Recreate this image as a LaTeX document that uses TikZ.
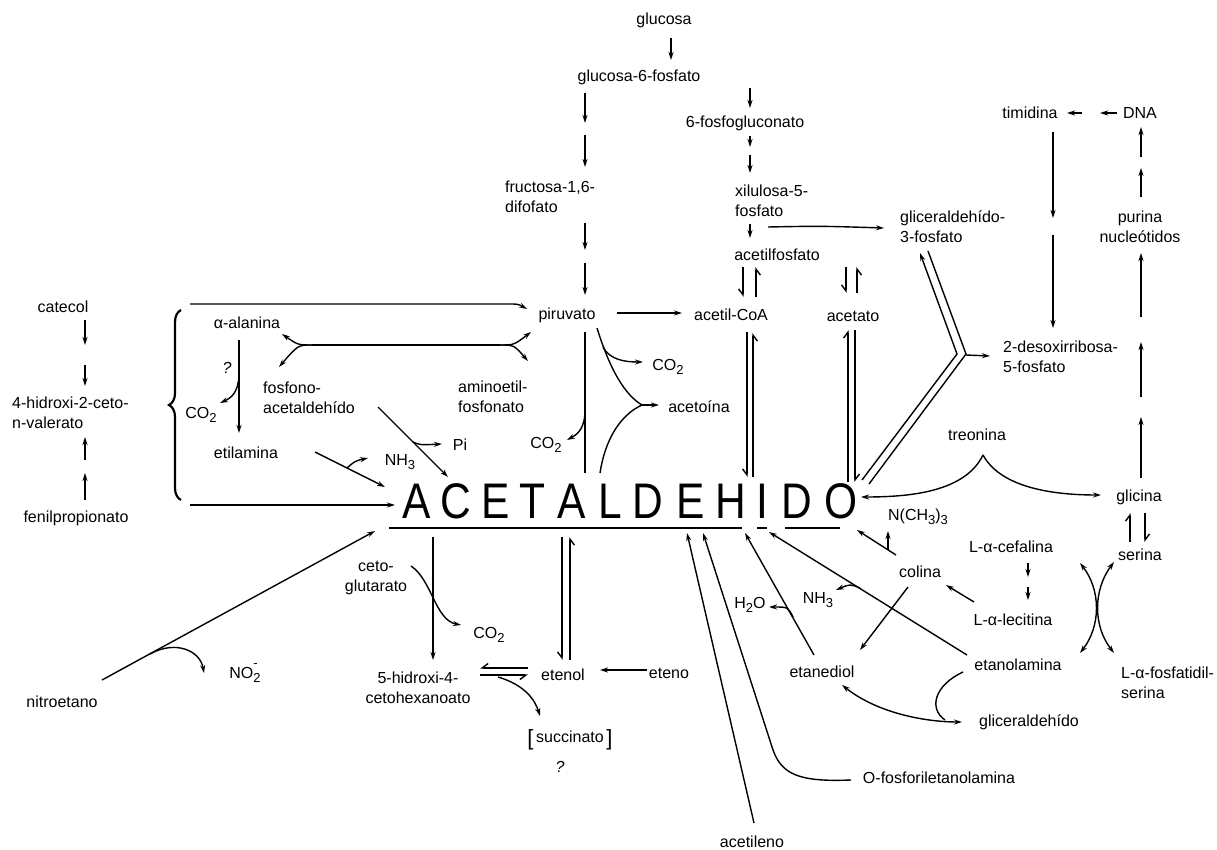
\documentclass[tikz,border=0pt]{standalone}
\usepackage{fontspec}
\setmainfont{Liberation Sans}
\usetikzlibrary{arrows.meta,decorations.pathreplacing}
\newcommand\sbs[1]{\raisebox{-0.45ex}{\fontsize{13}{13}\selectfont #1}}
\begin{document}
\begin{tikzpicture}[x=1pt,y=-1pt,
  lbl/.style={font=\fontsize{16}{20}\selectfont, inner sep=0pt, align=center},
  big/.style={font=\fontsize{50}{50}\selectfont, inner sep=0pt, anchor=base},
  ln/.style={line width=1.4pt},
  arr/.style={line width=1.4pt,-{Stealth[length=8pt,width=5pt]}},
  dbl/.style={line width=1.4pt,{Stealth[length=8pt,width=5pt]}-{Stealth[length=8pt,width=5pt]}},
  hp/.style={line width=1.4pt,-{Straight Barb[harpoon,length=6pt,width=9pt]}},
  hps/.style={line width=1.4pt,-{Straight Barb[harpoon,swap,length=6pt,width=9pt]}}]
\useasboundingbox (0,0) rectangle (1217,850);
\fill[white] (0,0) rectangle (1217,850);

% ---------- labels ----------
\node[lbl] (catecol) at (63,307) {catecol};
\node[lbl,align=left,anchor=west] (hidroxi) at (12,413) {4-hidroxi-2-ceto-\\n-valerato};
\node[lbl] (fenil) at (76,518) {fenilpropionato};
\node[lbl] (alanina) at (247,323) {α-alanina};
\node[lbl,align=left,anchor=west] (fosfono) at (263,398) {fosfono-\\acetaldehído};
\node[lbl] (etilamina) at (246,453) {etilamina};
\node[lbl] (co2a) at (201,415) {CO\sbs{2}};
\node[lbl] (qa) at (227,368) {\textit{?}};
\node[lbl,align=left,anchor=west] (aminoetil) at (458,397) {aminoetil-\\fosfonato};
\node[lbl] (piruvato) at (567,315) {piruvato};
\node[lbl] (acoa) at (731,315) {acetil-CoA};
\node[lbl] (acetato) at (853,316) {acetato};
\node[lbl] (acetoina) at (699,407) {acetoína};
\node[lbl] (co2b) at (668,367) {CO\sbs{2}};
\node[lbl] (co2c) at (546,445) {CO\sbs{2}};
\node[lbl] (nh3a) at (400,462) {NH\sbs{3}};
\node[lbl] (pi) at (460,445) {Pi};
\node[lbl] (glucosa) at (664,20) {glucosa};
\node[lbl] (g6p) at (639,77) {glucosa-6-fosfato};
\node[lbl,align=left,anchor=west] (fructosa) at (505,197) {fructosa-1,6-\\difofato};
\node[lbl] (pg) at (745,123) {6-fosfogluconato};
\node[lbl,align=left,anchor=west] (xilulosa) at (735,201) {xilulosa-5-\\fosfato};
\node[lbl] (acetilfosfato) at (777,255) {acetilfosfato};
\node[lbl,align=left,anchor=west] (g3p) at (900,227) {gliceraldehído-\\3-fosfato};
\node[lbl] (timidina) at (1030,113) {timidina};
\node[lbl] (dna) at (1140,113) {DNA};
\node[lbl] (purina) at (1140,227) {purina\\nucleótidos};
\node[lbl,align=left,anchor=west] (desoxi) at (1003,357) {2-desoxirribosa-\\5-fosfato};
\node[lbl] (treonina) at (977,435) {treonina};
\node[lbl] (glicina) at (1139,497) {glicina};
\node[lbl] (serina) at (1140,555) {serina};
\node[lbl] (nch3) at (918,517) {N(CH\sbs{3})\sbs{3}};
\node[lbl] (cefalina) at (1011,547) {L-α-cefalina};
\node[lbl] (colina) at (920,572) {colina};
\node[lbl] (lecitina) at (1013,620) {L-α-lecitina};
\node[lbl] (h2o) at (750,605) {H\sbs{2}O};
\node[lbl] (nh3b) at (818,600) {NH\sbs{3}};
\node[lbl] (etanediol) at (822,672) {etanediol};
\node[lbl] (etanolamina) at (1018,665) {etanolamina};
\node[lbl,align=left,anchor=west] (fosfatidil) at (1121,683) {L-α-fosfatidil-\\serina};
\node[lbl] (glic) at (1029,722) {gliceraldehído};
\node[lbl] (ofosfo) at (939,778) {O-fosforiletanolamina};
\node[lbl] (acetileno) at (752,842) {acetileno};
\node[lbl] (cetoglut) at (376,578) {ceto-\\glutarato};
\node[lbl] (co2d) at (489,635) {CO\sbs{2}};
\node[lbl] (hidroxi5) at (418,688) {5-hidroxi-4-\\cetohexanoato};
\node[lbl] (etenol) at (563,675) {etenol};
\node[lbl] (eteno) at (669,673) {eteno};
\node[lbl] (succinato) at (570,740) {{\fontsize{22}{22}\selectfont[}\,\raisebox{3pt}{succinato}\,{\fontsize{22}{22}\selectfont]}};
\node[lbl] (qb) at (560,767) {\textit{?}};
\node[lbl] (nitroetano) at (62,702) {nitroetano};
\node[lbl] (no2) at (245,673) {NO\rlap{\raisebox{1.3ex}{\fontsize{13}{13}\selectfont -}}\raisebox{-0.45ex}{\fontsize{13}{13}\selectfont 2}};

% ---------- ACETALDEHIDO ----------
\foreach \ch/\xx [count=\i] in {A/417,C/456,E/496,T/532,A/572,L/610,D/648,E/691,H/731,I/762,D/797,O/841}
  \node[big] (L\i) at (\xx,518) {\scalebox{0.85}[1]{\ch}};
\draw[line width=2pt] (389,528) -- (742,528);
\draw[line width=2pt] (757,528) -- (767,528);
\draw[line width=2pt] (785,528) -- (840,528);

% ---------- left column ----------
\draw[arr] (85,320) -- (85,345);
\draw[arr] (85,365) -- (85,386);
\draw[arr] (85,460) -- (85,437);
\draw[arr] (85,500) -- (85,473);
\draw[line width=2.2pt,decorate,decoration={brace,amplitude=12pt}] (181,500) -- (181,310);
\draw[arr] (190,304) -- (508,304) .. controls (518,304) .. (527,309);
\draw[arr] (190,505) -- (395,505);

% alanina group
\draw[ln] (312,345) -- (500,345);
\draw[arr] (312,345) .. controls (298,345) .. (282,334);
\draw[arr] (312,345) .. controls (298,345) .. (279,367);
\draw[arr] (500,345) .. controls (514,345) .. (531,332);
\draw[arr] (500,345) .. controls (514,345) .. (528,361);
\draw[arr] (239,340) -- (239,433);
\draw[arr] (239,376) .. controls (238,393) and (231,398) .. (220,403);
\draw[arr] (378,407) -- (448,477);
\draw[arr] (413,442) .. controls (420,445) .. (442,444);
\draw[arr] (315,452) -- (385,487);
\draw[arr] (347,468) .. controls (355,461) .. (368,458);

% piruvato group
\draw[arr] (617,313) -- (682,313);
\draw[ln] (585,332) -- (585,473);
\draw[arr] (585,410) .. controls (585,428) and (578,434) .. (567,440);
\draw[ln] (597,328) .. controls (610,370) and (625,395) .. (642,405);
\draw[ln] (600,473) .. controls (605,440) and (620,415) .. (642,405);
\draw[arr] (642,405) -- (659,405);
\draw[arr] (603,347) .. controls (610,360) and (625,362) .. (643,362);

% glucosa column
\draw[arr] (671,38) -- (671,60);
\draw[arr] (585,93) -- (585,123);
\draw[arr] (585,135) -- (585,167);
\draw[arr] (585,223) -- (585,250);
\draw[arr] (585,263) -- (585,295);
\draw[arr] (750,88) -- (750,108);
\draw[arr] (750,136) -- (750,147);
\draw[arr] (750,155) -- (750,173);
\draw[arr] (750,224) -- (750,238);
\draw[arr] (768,227) .. controls (820,226) .. (884,228);

% reversible pairs
\draw[hps] (743,267) -- (743,297);
\draw[hps] (756,297) -- (756,267);
\draw[hps] (846,267) -- (846,293);
\draw[hps] (857,293) -- (857,267);
\draw[hps] (747,332) -- (747,477);
\draw[hps] (753,477) -- (753,333);
\draw[hp] (848,482) -- (848,330);
\draw[hp] (855,330) -- (855,482);

% gliceraldehido-3-fosfato double line
\draw[line width=1.4pt,{Stealth[length=8pt,width=5pt]}-] (920,253) -- (957,354) -- (862,480);
\draw[ln] (928,251) -- (966,354) -- (869,484);
\draw[arr] (966,355) -- (990,356);

% right column
\draw[arr] (1082,113) -- (1067,113);
\draw[arr] (1117,113) -- (1100,113);
\draw[arr] (1053,132) -- (1053,218);
\draw[arr] (1053,235) -- (1053,328);
\draw[arr] (1141,157) -- (1141,127);
\draw[arr] (1141,197) -- (1141,168);
\draw[arr] (1141,317) -- (1141,253);
\draw[arr] (1141,397) -- (1141,342);
\draw[arr] (1141,478) -- (1141,417);
\draw[hp] (1130,542) -- (1130,513);
\draw[hp] (1145,513) -- (1145,542);

% treonina
\draw[arr] (983,455) .. controls (965,492) and (910,497) .. (861,497);
\draw[arr] (983,455) .. controls (1002,490) and (1060,495) .. (1101,495);

% colina group
\draw[arr] (896,555) -- (857,530);
\draw[arr] (888,550) -- (888,531);
\draw[arr] (908,587) -- (860,650);
\draw[arr] (974,602) -- (946,585);
\draw[arr] (1028,563) -- (1028,577);
\draw[arr] (1028,587) -- (1028,600);
\draw[dbl] (1080,563) .. controls (1101,590) and (1101,626) .. (1080,653);
\draw[dbl] (1114,562) .. controls (1093,590) and (1093,626) .. (1114,653);

% lines up to acetaldehido
\draw[arr] (754,823) -- (687,533);
\draw[arr] (851,780) .. controls (800,782) and (782,775) .. (773,750) -- (703,533);
\draw[arr] (814,655) -- (745,533);
\draw[arr] (793,617) .. controls (788,607) .. (769,607);
\draw[arr] (967,655) -- (769,532);
\draw[arr] (860,588) .. controls (850,584) .. (836,590);
\draw[dbl] (842,685) .. controls (880,715) and (930,722) .. (962,722);
\draw[ln] (963,672) .. controls (935,685) and (928,708) .. (945,720);

% below acetaldehido
\draw[arr] (433,537) -- (433,660);
\draw[arr] (411,566) .. controls (432,580) and (435,620) .. (461,625);
\draw[hps] (528,668) -- (480,668);
\draw[hps] (480,675) -- (528,675);
\draw[arr] (498,677) .. controls (525,685) and (535,700) .. (540,716);
\draw[hps] (562,537) -- (562,660);
\draw[hps] (570,660) -- (570,537);
\draw[arr] (647,670) -- (600,670);

% nitroetano
\draw[arr] (102,680) -- (375,531);
\draw[arr] (150,654) .. controls (175,640) and (200,650) .. (204,673);
\end{tikzpicture}
\end{document}
